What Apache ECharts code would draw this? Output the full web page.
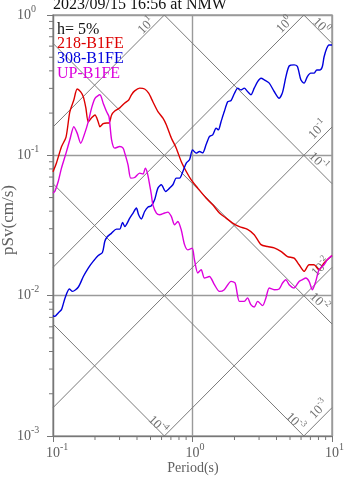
<!DOCTYPE html>
<html>
<head>
<meta charset="utf-8">
<script src="https://cdn.jsdelivr.net/npm/echarts@6/dist/echarts.min.js"></script>
<style>
  html, body { margin: 0; padding: 0; background: #fff; }
  #chart { width: 347px; height: 478px; }
</style>
</head>
<body>
<div id="chart"></div>
<script>
// Pseudo-velocity response spectra (h = 5%), tripartite log-log plot.
const titleText = '2023/09/15 16:56 at NMW';
const dampingText = 'h= 5%';
const seriesNames = ['218-B1FE', '308-B1FE', 'UP-B1FE'];

// Axis ranges
const periodRange = [0.1, 10];
const svRange = [0.001, 1];

// Minor tick values (majors come from the log axes themselves)
const xMinorTicks = [0.2,0.3,0.4,0.5,0.6,0.7,0.8,0.9,2,3,4,5,6,7,8,9];
const yMinorTicks = [0.002,0.003,0.004,0.005,0.006,0.007,0.008,0.009,
                     0.02,0.03,0.04,0.05,0.06,0.07,0.08,0.09,
                     0.2,0.3,0.4,0.5,0.6,0.7,0.8,0.9];

// Constant displacement (cm) and constant acceleration (cm/s^2) guide levels
const dispLevels = [1e-4, 1e-3, 1e-2, 1e-1, 1];
const accLevels = [1e-3, 1e-2, 1e-1, 1, 10];

// 218-B1FE
const period218 = [0.100,0.106,0.115,0.124,0.132,0.141,0.149,0.158,0.165,0.172,0.179,0.189,0.200,0.211,0.217,0.229,0.243,0.252,0.263,0.277,0.301,0.327,0.349,0.365,0.385,0.418,0.454,0.485,0.520,0.565,0.614,0.649,0.705,0.765,0.830,0.902,0.979,1.091,1.25,1.396,1.56,1.74,1.94,2.17,2.48,2.77,3.10,3.45,3.85,4.30,4.80,5.35,5.81,6.31,6.85,7.43,8.07,8.77,10.0];
const sv218 = [0.0763,0.0885,0.115,0.135,0.204,0.248,0.297,0.283,0.261,0.218,0.173,0.185,0.194,0.173,0.160,0.168,0.170,0.170,0.194,0.207,0.218,0.236,0.248,0.270,0.288,0.301,0.297,0.277,0.241,0.205,0.184,0.165,0.133,0.1125,0.0904,0.0767,0.0669,0.0584,0.0496,0.0444,0.0388,0.0357,0.0329,0.0310,0.0297,0.0272,0.0231,0.0224,0.0219,0.0207,0.0190,0.0185,0.0166,0.0149,0.0166,0.0166,0.0153,0.0171,0.0193];

// 308-B1FE
const period308 = [0.100,0.103,0.109,0.115,0.122,0.131,0.138,0.152,0.165,0.179,0.194,0.211,0.226,0.235,0.244,0.263,0.285,0.301,0.315,0.327,0.355,0.375,0.396,0.411,0.430,0.454,0.480,0.507,0.535,0.565,0.598,0.641,0.685,0.723,0.765,0.808,0.853,0.902,0.952,1.0,1.063,1.122,1.185,1.25,1.322,1.396,1.476,1.534,1.60,1.69,1.79,1.89,2.0,2.11,2.23,2.35,2.48,2.62,2.77,2.93,3.10,3.27,3.55,3.85,4.18,4.42,4.67,4.93,5.35,5.65,5.98,6.31,6.66,7.04,7.43,7.78,8.21,8.53,8.77,9.17,9.51,10.0];
const sv308 = [0.00721,0.00712,0.00753,0.00795,0.00964,0.01116,0.01073,0.01153,0.0137,0.01574,0.01755,0.0193,0.0203,0.0243,0.0262,0.0279,0.0298,0.0298,0.0333,0.0311,0.0357,0.0388,0.0421,0.0377,0.0352,0.0398,0.0428,0.0437,0.0482,0.0584,0.0617,0.0553,0.0584,0.0617,0.0688,0.0688,0.0767,0.0880,0.0929,0.1094,0.1037,0.1064,0.1042,0.1188,0.136,0.140,0.156,0.152,0.173,0.205,0.241,0.246,0.277,0.301,0.292,0.301,0.285,0.270,0.301,0.335,0.354,0.345,0.327,0.285,0.255,0.281,0.362,0.433,0.441,0.429,0.345,0.327,0.364,0.385,0.385,0.406,0.406,0.429,0.502,0.579,0.612,0.612];

// UP-B1FE
const periodUP = [0.100,0.103,0.109,0.115,0.124,0.132,0.141,0.149,0.158,0.169,0.179,0.189,0.200,0.217,0.229,0.242,0.252,0.263,0.277,0.301,0.318,0.327,0.345,0.361,0.385,0.418,0.442,0.459,0.475,0.493,0.507,0.520,0.551,0.581,0.631,0.666,0.705,0.744,0.785,0.830,0.877,0.925,0.995,1.033,1.091,1.154,1.218,1.322,1.436,1.56,1.69,1.89,2.02,2.17,2.35,2.48,2.62,2.77,2.93,3.18,3.36,3.55,3.85,4.18,4.42,4.67,4.93,5.35,5.81,6.14,6.49,6.85,7.23,7.65,8.07,8.77,9.25,10.0];
const svUP = [0.0541,0.0553,0.0651,0.0811,0.1037,0.129,0.160,0.144,0.122,0.144,0.174,0.217,0.255,0.270,0.235,0.205,0.189,0.129,0.1125,0.1155,0.1125,0.1037,0.0856,0.0688,0.0695,0.0747,0.0735,0.0811,0.0747,0.0617,0.0524,0.0444,0.0388,0.0377,0.0388,0.0394,0.0367,0.0320,0.0338,0.0295,0.0231,0.0212,0.0218,0.0180,0.0145,0.0153,0.01336,0.0137,0.01198,0.01073,0.01103,0.01264,0.01231,0.0091,0.0091,0.00964,0.00863,0.00831,0.0091,0.00849,0.00964,0.01135,0.01103,0.01116,0.01231,0.0130,0.01198,0.01135,0.01264,0.0130,0.01336,0.01264,0.01103,0.01264,0.0153,0.0166,0.0180,0.0193];

const SERIF = '"Liberation Serif", "Times New Roman", serif';
const GRID_GRAY = '#9a9a9a';
const GUIDE_GRAY = '#7a7a7a';
const TEXT_GRAY = '#606060';
const colors = ['#dd0000', '#0000dd', '#dd00dd'];
const TWO_PI = 2 * Math.PI;

const zip = (xs, ys) => xs.map((x, i) => [x, ys[i]]);
const expOf = v => Math.round(Math.log10(v));

// Segment of a constant-displacement line (Sv = 2*pi*D/T) inside the box
function dispSegment(d) {
  const t0 = Math.max(periodRange[0], TWO_PI * d / svRange[1]);
  const t1 = Math.min(periodRange[1], TWO_PI * d / svRange[0]);
  return t0 < t1 ? [[t0, TWO_PI * d / t0], [t1, TWO_PI * d / t1]] : null;
}
// Segment of a constant-acceleration line (Sv = A*T/(2*pi)) inside the box
function accSegment(a) {
  const t0 = Math.max(periodRange[0], TWO_PI * svRange[0] / a);
  const t1 = Math.min(periodRange[1], TWO_PI * svRange[1] / a);
  return t0 < t1 ? [[t0, a * t0 / TWO_PI], [t1, a * t1 / TWO_PI]] : null;
}

const guideSeries = [];
dispLevels.forEach(d => {
  const seg = dispSegment(d);
  if (seg) guideSeries.push({ type: 'line', data: seg, symbol: 'none', silent: true, z: 1,
    lineStyle: { color: GUIDE_GRAY, width: 1 } });
});
accLevels.forEach(a => {
  const seg = accSegment(a);
  if (seg) guideSeries.push({ type: 'line', data: seg, symbol: 'none', silent: true, z: 1,
    lineStyle: { color: GUIDE_GRAY, width: 1 } });
});

// Minor ticks drawn just outside the plot box
function minorTickSeries(values, dir) {
  return {
    type: 'custom', coordinateSystem: 'cartesian2d', silent: true, clip: false, z: 5,
    data: values.map(v => dir === 'x' ? [v, svRange[0]] : [periodRange[0], v]),
    renderItem: (params, api) => {
      const p = api.coord([api.value(0), api.value(1)]);
      const len = 4;
      const shape = dir === 'x'
        ? { x1: p[0], y1: p[1], x2: p[0], y2: p[1] + len }
        : { x1: p[0] - len, y1: p[1], x2: p[0], y2: p[1] };
      return { type: 'line', shape, style: { stroke: '#777', lineWidth: 1 } };
    }
  };
}

const curves = [
  { name: seriesNames[0], data: zip(period218, sv218), color: colors[0] },
  { name: seriesNames[1], data: zip(period308, sv308), color: colors[1] },
  { name: seriesNames[2], data: zip(periodUP, svUP), color: colors[2] }
].map(c => ({
  type: 'line', name: c.name, data: c.data, symbol: 'none', smooth: 0.25, z: 4,
  lineStyle: { color: c.color, width: 1.4 }, itemStyle: { color: c.color }
}));

// Power-of-ten labels: the exponent is lifted with bottom padding on its token
const supRich = {
  b: { fontFamily: SERIF, fontSize: 14, lineHeight: 16, color: TEXT_GRAY },
  s: { fontFamily: SERIF, fontSize: 10, lineHeight: 10, padding: [0, 0, 12, 0], color: TEXT_GRAY },
  sp: { fontFamily: SERIF, fontSize: 10, lineHeight: 10, padding: [0, 0, 12, 0], color: 'rgba(0,0,0,0)' }
};

const option = {
  animation: false,
  backgroundColor: '#fff',
  grid: { left: 53, right: 14, top: 15, bottom: 42, show: true, borderColor: GRID_GRAY, borderWidth: 1.4 },
  xAxis: {
    type: 'log', logBase: 10, min: periodRange[0], max: periodRange[1],
    axisLine: { show: true, lineStyle: { color: '#777', width: 1.2 } },
    axisTick: { show: true, inside: false, length: 6, lineStyle: { color: '#777' } },
    splitLine: { show: true, lineStyle: { color: GRID_GRAY, width: 1.4 } },
    axisLabel: {
      margin: 17, verticalAlign: 'middle',
      formatter: v => { const e = expOf(v); return '{sp|' + e + '}{b|10}{s|' + e + '}'; },
      rich: supRich
    }
  },
  yAxis: {
    type: 'log', logBase: 10, min: svRange[0], max: svRange[1],
    axisLine: { show: true, lineStyle: { color: '#777', width: 1.2 } },
    axisTick: { show: true, inside: false, length: 6, lineStyle: { color: '#777' } },
    splitLine: { show: true, lineStyle: { color: GRID_GRAY, width: 1.4 } },
    axisLabel: {
      margin: 36, align: 'left', verticalAlign: 'middle',
      formatter: v => '{b|10}{s|' + expOf(v) + '}',
      rich: supRich
    }
  },
  series: [...guideSeries, minorTickSeries(xMinorTicks, 'x'), minorTickSeries(yMinorTicks, 'y'), ...curves]
};

const chart = echarts.init(document.getElementById('chart'));
chart.setOption(option);

// Labels for the guide lines, anchored where each line meets the plot edge
const px = (t, s) => chart.convertToPixel({ gridIndex: 0 }, [t, s]);
const guideLabels = [
  { kind: 'A', v: 10,   edge: 'top',    dx: -18, dy: 11 },
  { kind: 'A', v: 1,    edge: 'top',    dx: -19, dy: 10 },
  { kind: 'D', v: 1,    edge: 'top',    dx: 17,  dy: 11 },
  { kind: 'A', v: 0.1,  edge: 'right',  dx: -14, dy: 3 },
  { kind: 'D', v: 0.1,  edge: 'right',  dx: -14, dy: -22 },
  { kind: 'A', v: 0.01, edge: 'right',  dx: -11, dy: 0 },
  { kind: 'D', v: 0.01, edge: 'right',  dx: -13, dy: -22 },
  { kind: 'A', v: 0.001,edge: 'right',  dx: -13, dy: 2 },
  { kind: 'D', v: 0.001,edge: 'bottom', dx: -9,  dy: -14 },
  { kind: 'D', v: 1e-4, edge: 'bottom', dx: -7,  dy: -11 }
];
function edgePoint(g) {
  if (g.kind === 'A') {
    if (g.edge === 'top') return px(TWO_PI * svRange[1] / g.v, svRange[1]);
    return px(periodRange[1], g.v * periodRange[1] / TWO_PI);
  }
  if (g.edge === 'top') return px(TWO_PI * g.v / svRange[1], svRange[1]);
  if (g.edge === 'bottom') return px(TWO_PI * g.v / svRange[0], svRange[0]);
  return px(periodRange[1], TWO_PI * g.v / periodRange[1]);
}
const guideRich = {
  b: { fontFamily: SERIF, fontSize: 13, lineHeight: 15, fill: '#707070' },
  s: { fontFamily: SERIF, fontSize: 9, lineHeight: 9, padding: [0, 0, 10, 0], fill: '#707070' }
};
const graphics = guideLabels.map(g => {
  const p = edgePoint(g);
  return {
    type: 'text', x: p[0] + g.dx, y: p[1] + g.dy, z: 3,
    rotation: g.kind === 'A' ? Math.PI / 4 : -Math.PI / 4,
    style: { text: '{b|10}{s|' + expOf(g.v) + '}', rich: guideRich, align: 'center', verticalAlign: 'middle', fill: '#707070' }
  };
});

// Title, legend block and axis names
graphics.push(
  { type: 'text', x: 53, y: 5, z: 10, style: { text: titleText, fontFamily: SERIF, fontSize: 16, fill: '#111', align: 'left', verticalAlign: 'middle' } },
  { type: 'text', x: 57, y: 29.5, z: 10, style: { text: dampingText, fontFamily: SERIF, fontSize: 16, fill: '#111', align: 'left', verticalAlign: 'middle' } },
  { type: 'text', x: 57, y: 44, z: 10, style: { text: seriesNames[0], fontFamily: SERIF, fontSize: 16, fill: colors[0], align: 'left', verticalAlign: 'middle' } },
  { type: 'text', x: 57, y: 59, z: 10, style: { text: seriesNames[1], fontFamily: SERIF, fontSize: 16, fill: colors[1], align: 'left', verticalAlign: 'middle' } },
  { type: 'text', x: 57, y: 73.5, z: 10, style: { text: seriesNames[2], fontFamily: SERIF, fontSize: 16, fill: colors[2], align: 'left', verticalAlign: 'middle' } },
  { type: 'text', x: 193, y: 468, z: 10, style: { text: 'Period(s)', fontFamily: SERIF, fontSize: 14, fill: TEXT_GRAY, align: 'center', verticalAlign: 'middle' } },
  { type: 'text', x: 9, y: 220, z: 10, rotation: Math.PI / 2, style: { text: 'pSv(cm/s)', fontFamily: SERIF, fontSize: 17, fill: TEXT_GRAY, align: 'center', verticalAlign: 'middle' } }
);
chart.setOption({ graphic: graphics });
</script>
</body>
</html>
